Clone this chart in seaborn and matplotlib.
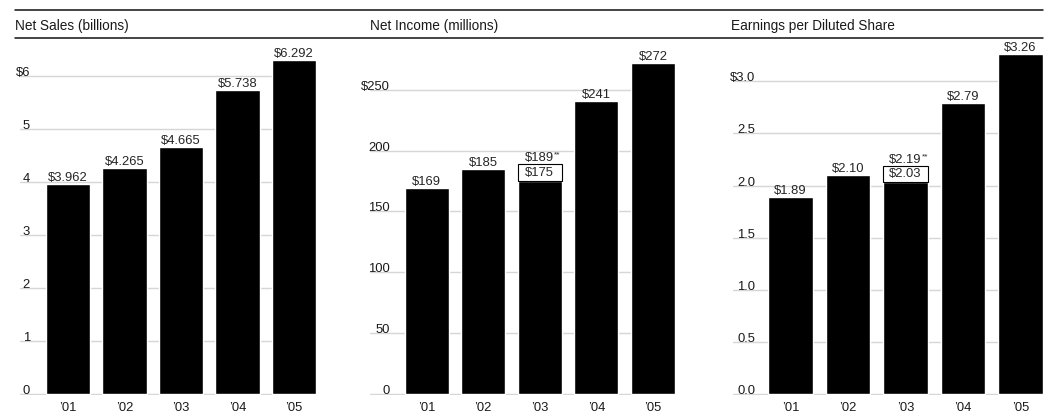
import matplotlib
matplotlib.use("Agg")
import matplotlib.pyplot as plt
from matplotlib.lines import Line2D
import seaborn as sns

# data
years = ["\u201901", "\u201902", "\u201903", "\u201904", "\u201905"]

net_sales = [3.962, 4.265, 4.665, 5.738, 6.292]
net_sales_labels = ["\\$3.962", "\\$4.265", "\\$4.665", "\\$5.738", "\\$6.292"]

net_income = [169, 185, 175, 241, 272]
net_income_labels = ["\\$169", "\\$185", "\\$175", "\\$241", "\\$272"]
net_income_03_proforma = 189
net_income_03_proforma_label = "\\$189"

eps = [1.89, 2.10, 2.03, 2.79, 3.26]
eps_labels = ["\\$1.89", "\\$2.10", "\\$2.03", "\\$2.79", "\\$3.26"]
eps_03_proforma = 2.19
eps_03_proforma_label = "\\$2.19"

sales_ticks = [0, 1, 2, 3, 4, 5, 6]
sales_tick_labels = ["0", "1", "2", "3", "4", "5", "\\$6"]
income_ticks = [0, 50, 100, 150, 200, 250]
income_tick_labels = ["0", "50", "100", "150", "200", "\\$250"]
eps_ticks = [0.0, 0.5, 1.0, 1.5, 2.0, 2.5, 3.0]
eps_tick_labels = ["0.0", "0.5", "1.0", "1.5", "2.0", "2.5", "\\$3.0"]

titles = ["Net Sales (billions)", "Net Income (millions)", "Earnings per Diluted Share"]

sns.set_style("white")
plt.rcParams["font.family"] = ["Liberation Sans", "DejaVu Sans"]

W, H = 1048, 417
fig = plt.figure(figsize=(W / 100, H / 100), dpi=100)

GRID = "#d6d6d6"
BAR_W = 0.78
FS = 9.4


def px_axes(x0, x1, y_top, y_base):
    return fig.add_axes([x0 / W, 1 - y_base / H, (x1 - x0) / W, (y_base - y_top) / H])


def draw_panel(ax, values, labels, ticks, tick_labels, ymax, xmin, label_off_px,
               proforma=None, proforma_label=None):
    sns.barplot(x=years, y=values, color="black", saturation=1, width=BAR_W, ax=ax, zorder=2)
    ax.set_xlim(xmin, 4 + BAR_W / 2)
    ax.set_ylim(-ymax * 0.003, ymax)
    ax.set_xlabel("")
    ax.set_ylabel("")
    for s in ax.spines.values():
        s.set_visible(False)
    ax.set_axisbelow(True)
    ax.yaxis.grid(True, color=GRID, lw=1.0)
    ax.xaxis.grid(False)
    ax.set_yticks(ticks, labels=tick_labels, va="baseline", fontsize=FS, color="#1a1a1a")
    ax.tick_params(axis="y", length=0, pad=-label_off_px * 0.72)
    ax.tick_params(axis="x", length=0, pad=5.2, labelsize=FS, labelcolor="#1a1a1a")

    for i, (v, lab) in enumerate(zip(values, labels)):
        if proforma is not None and i == 2:
            continue
        ax.text(i, v, lab, ha="center", va="bottom", fontsize=FS, zorder=3)

    if proforma is not None:
        base = values[2]
        ax.bar(2, proforma - base, bottom=base, width=BAR_W, facecolor="white",
               edgecolor="black", lw=0.8, zorder=3)
        ax.text(2, (base + proforma) / 2, labels[2], ha="center", va="center",
                fontsize=FS, zorder=4)
        t = ax.text(2, proforma, proforma_label, ha="center", va="bottom", fontsize=FS, zorder=4)
        ax.annotate("**", xy=(1.0, 0.78), xycoords=t, ha="left", va="center",
                    fontsize=6, zorder=4)


# panel geometry in pixels (left, right) of each plotting area
ax1 = px_axes(20, 316, 40, 395)
draw_panel(ax1, net_sales, net_sales_labels, sales_ticks, sales_tick_labels,
           355 / 53.2, -0.85, 10)

ax2 = px_axes(370, 675, 40, 395)
draw_panel(ax2, net_income, net_income_labels, income_ticks, income_tick_labels,
           355 / 1.22, -1.0, 20, net_income_03_proforma, net_income_03_proforma_label)

ax3 = px_axes(733, 1043, 40, 395)
draw_panel(ax3, eps, eps_labels, eps_ticks, eps_tick_labels,
           355 / 104.5, -1.0, 22, eps_03_proforma, eps_03_proforma_label)

# header rules and titles
for y in (10, 37.5):
    fig.add_artist(Line2D([15 / W, 1043 / W], [1 - y / H, 1 - y / H],
                          color="#111111", lw=1.1, transform=fig.transFigure))
for x, title in zip((15, 370, 731), titles):
    fig.text(x / W, 1 - 30 / H, title, ha="left", va="baseline", fontsize=9.8,
             color="#1a1a1a")

fig.savefig("out.png", dpi=100)
